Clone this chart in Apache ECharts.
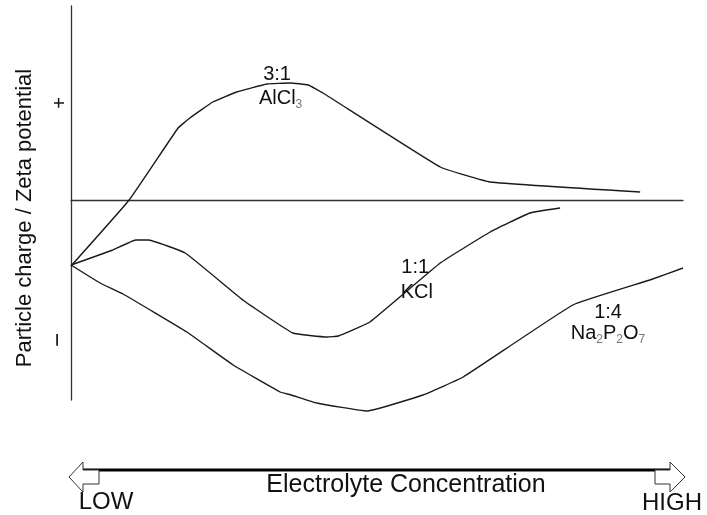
<!DOCTYPE html>
<html>
<head>
<meta charset="utf-8">
<script src="https://cdn.jsdelivr.net/npm/echarts@6/dist/echarts.min.js"></script>
<style>html,body{margin:0;padding:0;background:#fff}#c{width:707px;height:515px}</style>
</head>
<body>
<div id="c"></div>
<script>
// Electrolyte concentration (arbitrary units, LOW -> HIGH)
const alclX = [0, 11.4, 21.0, 23.3, 27.8, 32.5, 38.4, 43.0, 46.5, 49.4, 72.4, 82.2, 111.6];
const alclY = [-33, 0, 36, 41, 49, 54, 58, 58.5, 57.5, 53.5, 16.5, 9, 4];
const kclX = [0, 8.2, 12.7, 15.1, 22.4, 33.7, 43.5, 50.2, 52.4, 58.6, 72.4, 82.2, 90.0, 95.9];
const kclY = [-32.5, -25, -20, -20, -26.5, -50, -66.5, -68.5, -68, -61, -31.5, -16, -6.5, -4];
const naX = [0, 5.7, 10.2, 22.7, 31.8, 41.0, 43.2, 48.2, 58.0, 69.0, 76.9, 98.4, 113.5, 120];
const naY = [-32.5, -41.5, -47, -66, -82.5, -96, -97.5, -101.5, -105.5, -97.5, -88.5, -52.5, -40, -34];
const yTickValues = [48.5, -70];
const yTickLabels = ['+', '\u2212'];

const zip = (xs, ys) => xs.map((x, i) => [x, ys[i]]);
const FONT = 'Liberation Sans, Arial, sans-serif';
const lineStyle = { color: '#1a1a1a', width: 1.4 };
const richBase = {
  m: { fontSize: 20, fontFamily: FONT, color: '#111', lineHeight: 26 },
  s: { fontSize: 12, fontFamily: FONT, color: '#777', lineHeight: 12, padding: [14, 0, 0, 0] }
};
function mp(coord, text) {
  return {
    coord: coord, symbol: 'circle', symbolSize: 0,
    label: { show: true, position: 'inside', formatter: text, rich: richBase }
  };
}

const chart = echarts.init(document.getElementById('c'), null, { renderer: 'canvas' });
chart.setOption({
  animation: false,
  backgroundColor: '#fff',
  grid: { left: 71, right: 24, top: 6, bottom: 115 },
  xAxis: {
    type: 'value', min: 0, max: 120,
    axisLine: { show: true, onZero: true, lineStyle: { color: '#333', width: 1.3 } },
    axisTick: { show: false }, axisLabel: { show: false }, splitLine: { show: false }
  },
  yAxis: {
    type: 'value', min: -100, max: 97,
    axisLine: { show: true, lineStyle: { color: '#333', width: 1.3 } },
    axisTick: { show: false }, splitLine: { show: false },
    axisLabel: {
      show: true, customValues: yTickValues, rotate: 90, margin: 1,
      formatter: v => {
        const i = yTickValues.indexOf(v);
        return i === 0 ? '{p|' + yTickLabels[0] + '}' : '{n|' + yTickLabels[1] + '}';
      },
      rich: {
        p: { fontSize: 20, fontFamily: FONT, color: '#111' },
        n: { fontSize: 24, fontFamily: FONT, color: '#111' }
      }
    }
  },
  series: [
    {
      type: 'line', data: zip(alclX, alclY), symbol: 'none', clip: false, smooth: 0.1, lineStyle,
      markPoint: { data: [mp([40.4, 63], '{m|3:1}'), mp([41.1, 51], '{m|AlCl}{s|3}')] }
    },
    {
      type: 'line', data: zip(kclX, kclY), symbol: 'none', clip: false, smooth: 0.1, lineStyle,
      markPoint: { data: [mp([67.5, -33.5], '{m|1:1}'), mp([67.8, -46], '{m|KCl}')] }
    },
    {
      type: 'line', data: zip(naX, naY), symbol: 'none', clip: false, smooth: 0.1, lineStyle,
      markPoint: { data: [mp([105.3, -56], '{m|1:4}'), mp([105.3, -66.5], '{m|Na}{s|2}{m|P}{s|2}{m|O}{s|7}')] }
    }
  ],
  graphic: [
    { type: 'text', x: 25, y: 218, rotation: Math.PI / 2,
      style: { text: 'Particle charge / Zeta potential', font: '22px ' + FONT, fill: '#111', align: 'center', verticalAlign: 'middle' } },
    { type: 'line', shape: { x1: 83, y1: 470, x2: 670, y2: 470 }, style: { stroke: '#000', lineWidth: 3 } },
    { type: 'polygon', shape: { points: [[69, 477], [83, 462], [83, 470], [99, 470], [99, 484], [83, 484], [83, 492]] },
      style: { fill: '#fff', stroke: '#333', lineWidth: 1 } },
    { type: 'polygon', shape: { points: [[685, 477], [670, 462], [670, 470], [655, 470], [655, 484], [670, 484], [670, 492]] },
      style: { fill: '#fff', stroke: '#333', lineWidth: 1 } },
    { type: 'text', x: 406, y: 485,
      style: { text: 'Electrolyte Concentration', font: '25px ' + FONT, fill: '#111', align: 'center', verticalAlign: 'middle' } },
    { type: 'text', x: 106, y: 502,
      style: { text: 'LOW', font: '24px ' + FONT, fill: '#111', align: 'center', verticalAlign: 'middle' } },
    { type: 'text', x: 672, y: 503,
      style: { text: 'HIGH', font: '24px ' + FONT, fill: '#111', align: 'center', verticalAlign: 'middle' } }
  ]
});
</script>
</body>
</html>
